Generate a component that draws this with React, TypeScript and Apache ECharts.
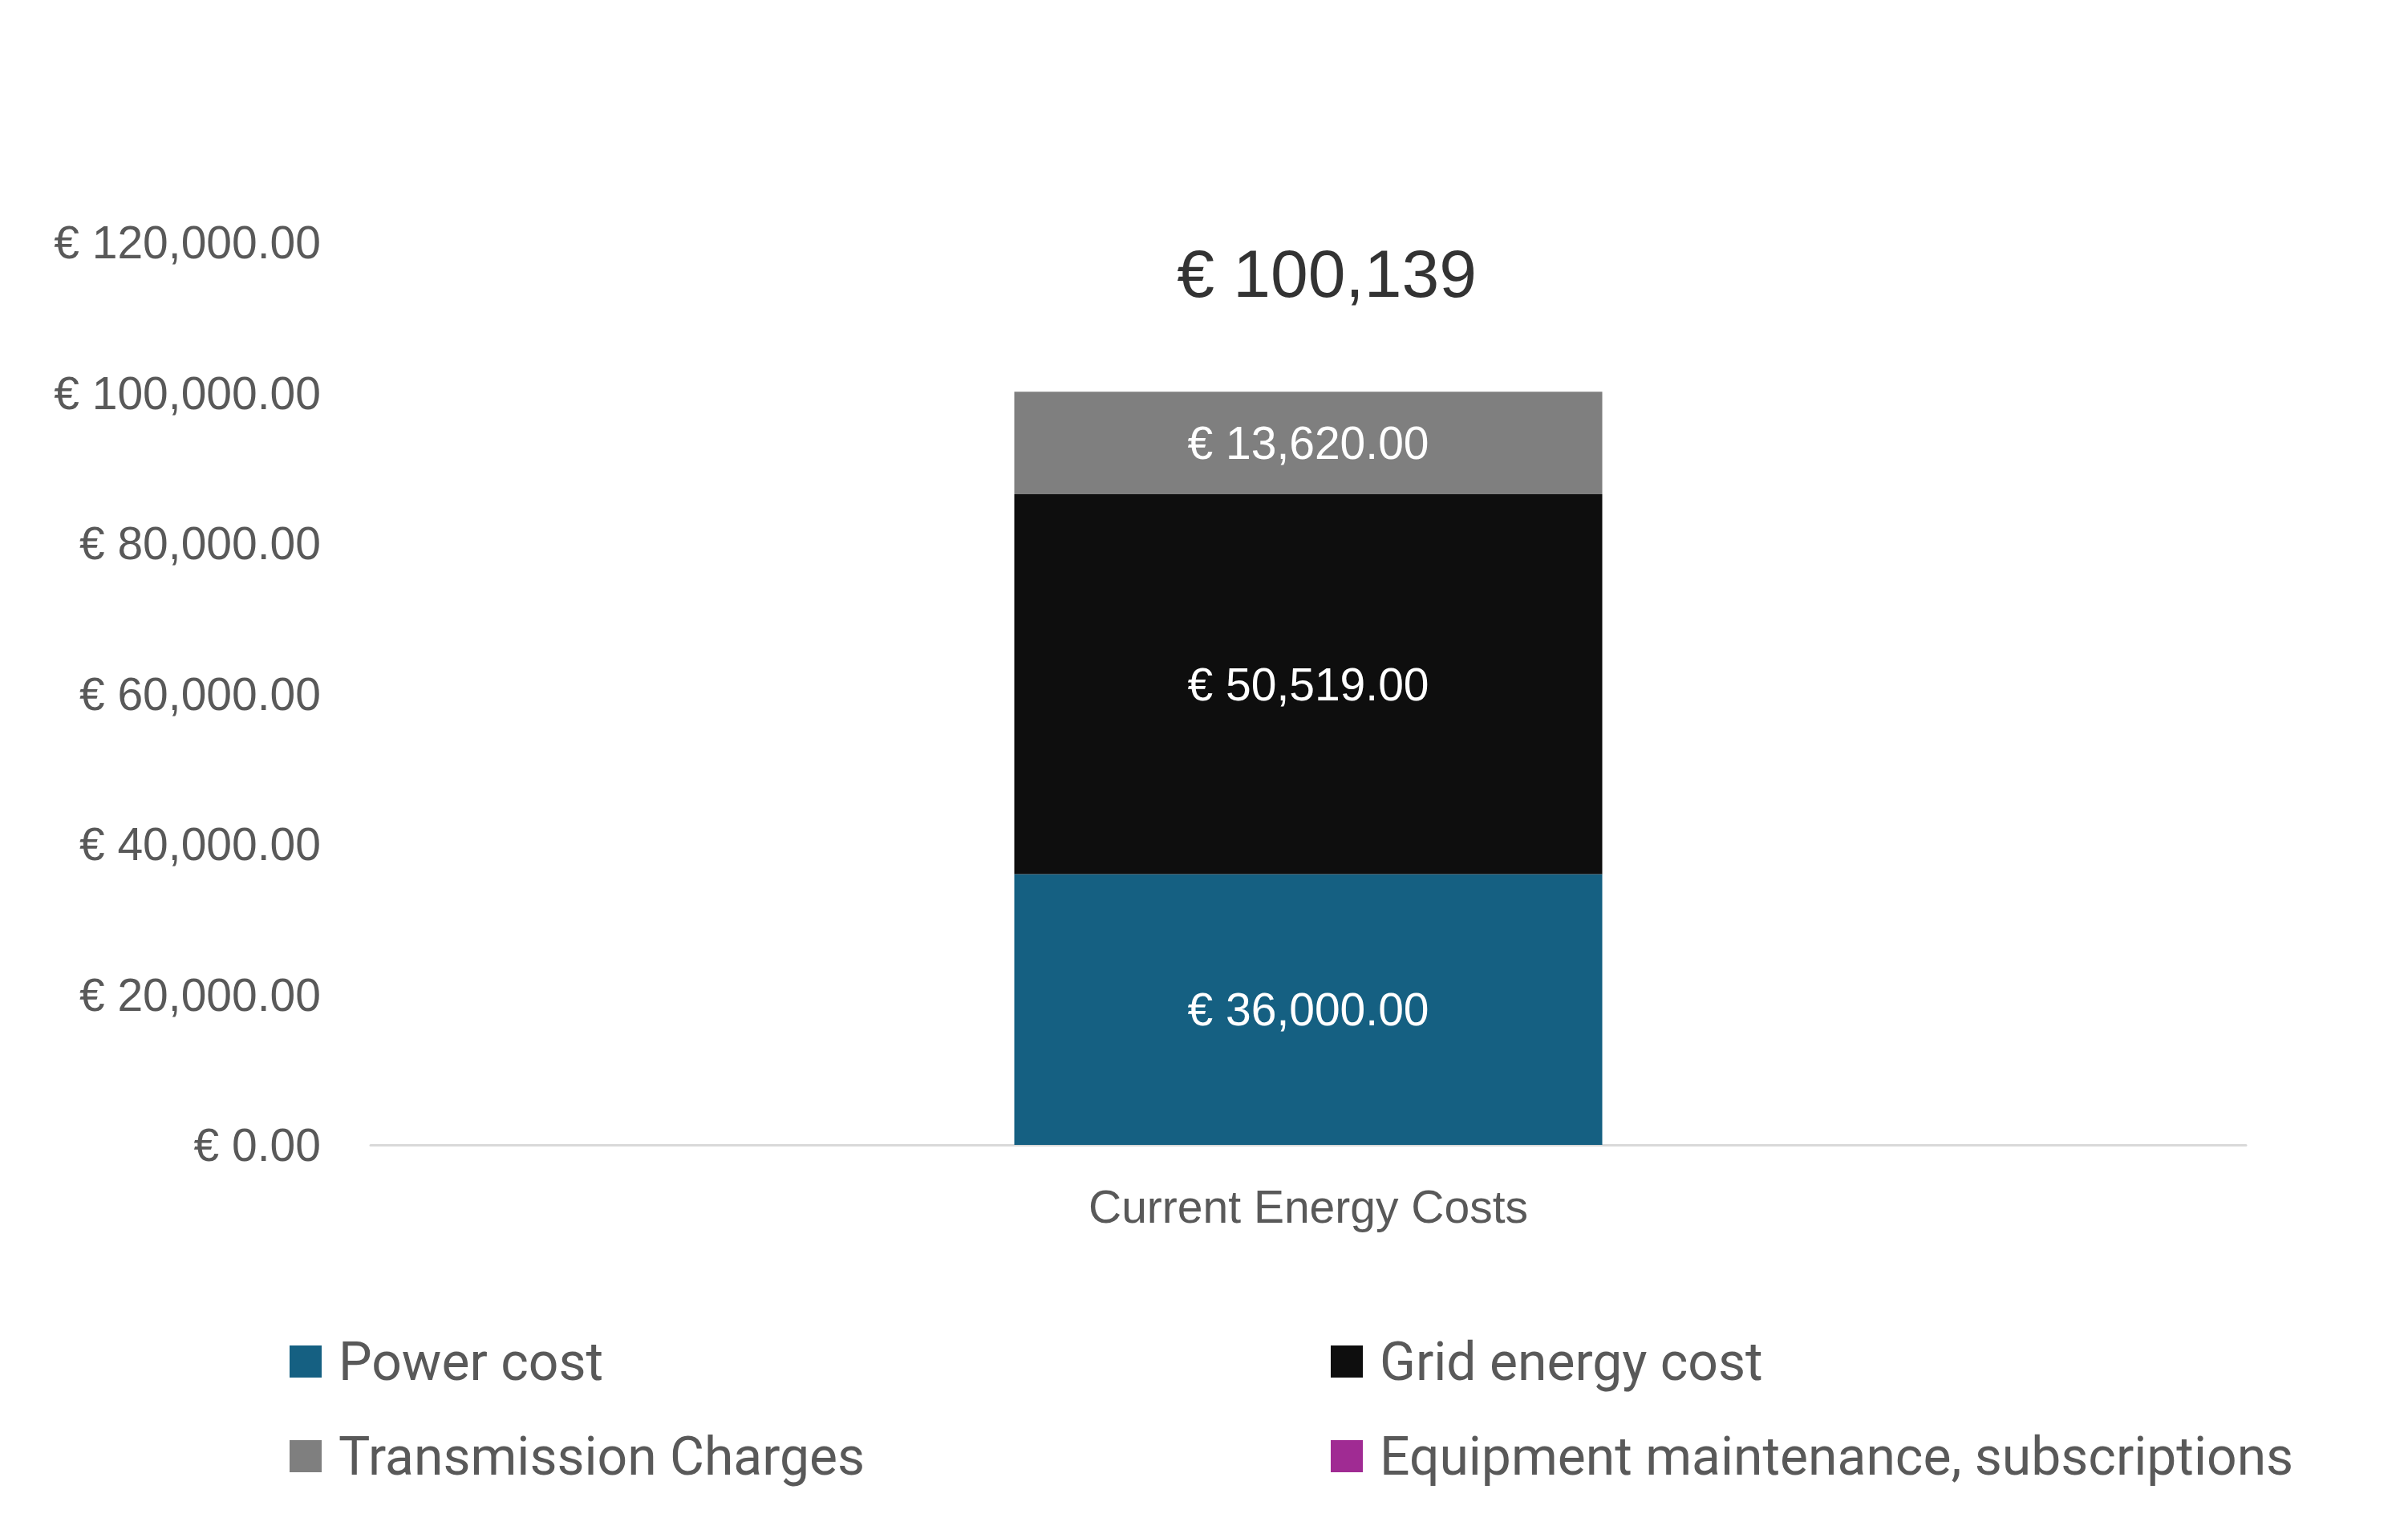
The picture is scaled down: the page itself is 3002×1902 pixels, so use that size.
import React, { useEffect, useRef } from "react";
import * as echarts from "echarts";

const categories = ["Current Energy Costs"];
const seriesNames = [
  "Power cost",
  "Grid energy cost",
  "Transmission Charges",
  "Equipment maintenance, subscriptions",
];
const powerCost = [36000];
const gridEnergyCost = [50519];
const transmissionCharges = [13620];
const equipmentMaintenance = [0];
const seriesColors = ["#156082", "#0E0E0E", "#7F7F7F", "#A02B93"];
const yTicks = { min: 0, max: 120000, interval: 20000 };

const eur2 = (v: number) =>
  "€ " + v.toLocaleString("en-US", { minimumFractionDigits: 2, maximumFractionDigits: 2 });
const eur0 = (v: number) => "€ " + Math.round(v).toLocaleString("en-US");

export default function App() {
  const ref = useRef<HTMLDivElement>(null);
  useEffect(() => {
    if (!ref.current) return;
    const chart = echarts.init(ref.current, undefined, { renderer: "svg" });
    const values = [powerCost, gridEnergyCost, transmissionCharges, equipmentMaintenance];
    const totals = categories.map((_, i) => values.reduce((s, arr) => s + arr[i], 0));
    const font = "Liberation Sans";
    const legendText = {
      fontSize: 66,
      lineHeight: 66,
      color: "#595959",
      fontFamily: "Roboto",
      padding: [0, 0, 0, 16],
    };
    chart.setOption({
      animation: false,
      backgroundColor: "#FFFFFF",
      grid: { left: 462, right: 202, top: 302, bottom: 475, containLabel: false },
      xAxis: {
        type: "category",
        data: categories,
        axisLine: { show: true, lineStyle: { color: "#D9D9D9", width: 3 } },
        axisTick: { show: false },
        axisLabel: { fontSize: 57, color: "#595959", fontFamily: font, margin: 48 },
      },
      yAxis: {
        type: "value",
        min: yTicks.min,
        max: yTicks.max,
        interval: yTicks.interval,
        axisLine: { show: false },
        axisTick: { show: false },
        splitLine: { show: false },
        axisLabel: {
          fontSize: 57,
          color: "#595959",
          fontFamily: font,
          margin: 62,
          formatter: (v: number) => eur2(v),
        },
      },
      legend: [
        {
          data: [seriesNames[0], seriesNames[2]],
          orient: "vertical",
          left: 361,
          top: 1664,
          padding: 0,
          itemWidth: 40,
          itemHeight: 40,
          itemGap: 52,
          icon: "rect",
          textStyle: legendText,
        },
        {
          data: [seriesNames[1], seriesNames[3]],
          orient: "vertical",
          left: 1659,
          top: 1664,
          padding: 0,
          itemWidth: 40,
          itemHeight: 40,
          itemGap: 52,
          icon: "rect",
          textStyle: legendText,
        },
      ],
      series: [
        ...values.map((arr, idx) => ({
          name: seriesNames[idx],
          type: "bar",
          stack: "total",
          data: arr,
          barWidth: 733,
          itemStyle: { color: seriesColors[idx] },
          label: {
            show: idx < 3,
            position: "inside",
            color: "#FFFFFF",
            fontSize: 57,
            fontFamily: font,
            formatter: (p: any) => (p.value ? eur2(p.value) : ""),
          },
        })),
        {
          name: "Total",
          type: "scatter",
          data: totals,
          symbolSize: 0,
          silent: true,
          label: {
            show: true,
            position: "inside",
            offset: [23, -147],
            color: "#000000",
            fontSize: 84,
            fontFamily: font,
            formatter: (p: any) => eur0(p.value),
          },
        },
      ],
    });
    return () => chart.dispose();
  }, []);
  return (
    <div
      ref={ref}
      style={{ position: "fixed", left: 0, top: 0, width: 3002, height: 1902 }}
    />
  );
}
